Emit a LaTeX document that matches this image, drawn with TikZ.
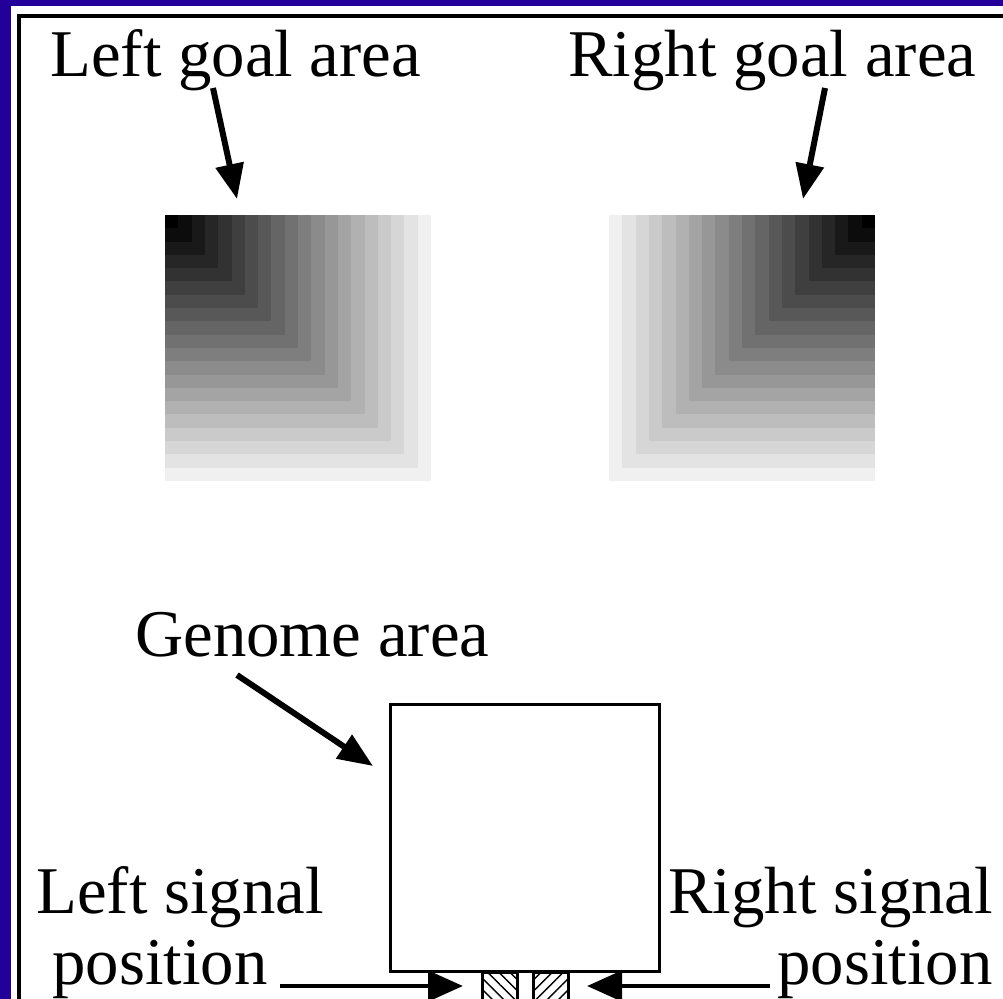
\documentclass[tikz,border=0pt]{standalone}
\usepackage{fontspec}
\setmainfont{Liberation Serif}
\definecolor{slideblue}{RGB}{34,0,153}
\usetikzlibrary{positioning, arrows.meta, patterns.meta}

\begin{document}
\begin{tikzpicture}[
    x=0.02cm, y=-0.02cm,
    lbl/.style={font=\fontsize{38}{44}\selectfont, inner sep=0pt, anchor=base west},
    goal/.style={minimum width=5.34cm, minimum height=5.32cm, inner sep=0pt, anchor=north west},
    genbox/.style={draw, line width=1.7pt, minimum width=5.4cm, minimum height=5.36cm, inner sep=0pt},
    hatch/.style={draw, line width=1.4pt, minimum width=0.7cm, minimum height=0.8cm, inner sep=0pt, anchor=north west},
    arr/.style={-{Triangle[length=0.7cm, width=0.55cm]}, line width=3.4pt},
    sig/.style={-{Triangle[length=0.7cm, width=0.6cm]}, line width=2.8pt}
  ]
  \useasboundingbox (0,0) rectangle (1003,999);
  \clip (0,0) rectangle (1003,999);
  \fill[slideblue] (0,0) rectangle (1003,999);
  \fill[white] (11,6) rectangle (1003,999);
  \draw[line width=2.2pt] (19,16) rectangle (1040,1040);

  \node[lbl] (ltitle) at (50,77) {Left goal area};
  \node[lbl] (rtitle) at (568,77) {Right goal area};
  \node[lbl] (gtitle) at (135,656) {Genome area};
  \node[lbl] (lsignal) at (36,913) {Left signal};
  \node[lbl] (lpos) at (52,984) {position};
  \node[lbl] (rsignal) at (668,913) {Right signal};
  \node[lbl] (rpos) at (777,984) {position};

  % goal areas, darkest in the outer top corner
  \node[goal] (lgoal) at (165,215) {};
  \node[goal, anchor=north east] (rgoal) at (875,215) {};
  \foreach \i in {0,...,19}{
    \pgfmathsetmacro{\side}{266*(1-\i/20)}
    \pgfmathsetmacro{\shade}{6+94*\i/19}
    \fill[black!\shade] (lgoal.north west) rectangle ++(\side,\side);
    \fill[black!\shade] (rgoal.north east) rectangle ++(-\side,\side);
  }

  \node[genbox] (genome) at (525,838) {};
  \node[hatch, pattern={Lines[angle=-45, distance=4.5pt, line width=0.8pt]}] (lhatch) at (482,972) {};
  \node[hatch, pattern={Lines[angle=45, distance=4.5pt, line width=0.8pt]}] (rhatch) at (533,972) {};

  \coordinate (lgtail) at (213,88);
  \coordinate (lgtip) at (237,199);
  \coordinate (rgtail) at (825,88);
  \coordinate (rgtip) at (803,199);
  \coordinate (gtail) at (237,675);
  \coordinate (gtip) at (373,766);
  \coordinate (lstail) at (280,986);
  \coordinate (lstip) at (463,986);
  \coordinate (rstail) at (770,986);
  \coordinate (rstip) at (587,986);

  \draw[arr] (lgtail) -- (lgtip);
  \draw[arr] (rgtail) -- (rgtip);
  \draw[arr] (gtail) -- (gtip);
  \draw[sig] (lstail) -- (lstip);
  \draw[sig] (rstail) -- (rstip);
\end{tikzpicture}
\end{document}
